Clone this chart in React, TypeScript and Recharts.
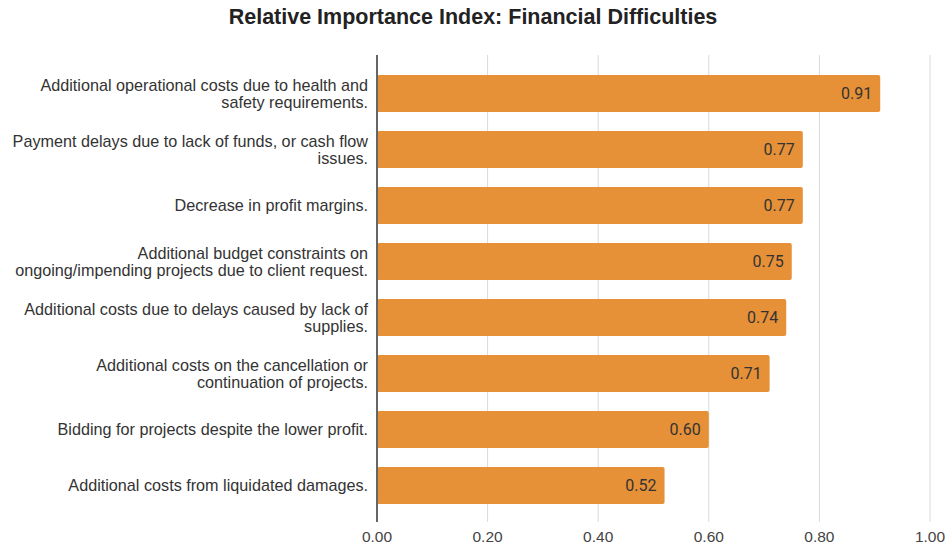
import React from "react";
import { BarChart, Bar, XAxis, YAxis, CartesianGrid, LabelList } from "recharts";

// Factor labels (explicit line breaks) and their relative importance index values
const factors: string[] = [
  "Additional operational costs due to health and\nsafety requirements.",
  "Payment delays due to lack of funds, or cash flow\nissues.",
  "Decrease in profit margins.",
  "Additional budget constraints on\nongoing/impending projects due to client request.",
  "Additional costs due to delays caused by lack of\nsupplies.",
  "Additional costs on the cancellation or\ncontinuation of projects.",
  "Bidding for projects despite the lower profit.",
  "Additional costs from liquidated damages.",
];
const riiValues: number[] = [0.91, 0.77, 0.77, 0.75, 0.74, 0.71, 0.6, 0.52];
const xTicks: number[] = [0, 0.2, 0.4, 0.6, 0.8, 1.0];

const chartTitle = "Relative Importance Index: Financial Difficulties";

const data = factors.map((factor, i) => ({ factor, rii: riiValues[i] }));

const LABEL_FONT = "'Liberation Sans', Arial, sans-serif";

function FactorTick(props: any) {
  const { x, y, payload } = props;
  const lines: string[] = String(payload.value).split("\n");
  const lineHeight = 17;
  const startDy = -((lines.length - 1) * lineHeight) / 2;
  return (
    <text
      x={x}
      y={y}
      textAnchor="end"
      fill="#333"
      fontSize={16.2}
      fontFamily={LABEL_FONT}
    >
      {lines.map((line, i) => (
        <tspan key={i} x={x} dy={i === 0 ? startDy : lineHeight} dominantBaseline="central">
          {line}
        </tspan>
      ))}
    </text>
  );
}

export default function App() {
  return (
    <div style={{ position: "absolute", left: 0, top: 0, width: 946, height: 548, background: "#fff" }}>
      <div
        style={{
          position: "absolute",
          left: 0,
          top: 5,
          width: 946,
          textAlign: "center",
          fontFamily: LABEL_FONT,
          fontWeight: "bold",
          fontSize: 21.5,
          color: "#222",
          lineHeight: "25px",
        }}
      >
        {chartTitle}
      </div>
      <BarChart
        width={946}
        height={548}
        data={data}
        layout="vertical"
        margin={{ top: 55, right: 16, bottom: 0, left: 0 }}
        barSize={37}
      >
        <CartesianGrid horizontal={false} stroke="#d9d9d9" />
        <XAxis
          type="number"
          domain={[0, 1]}
          ticks={xTicks}
          tickFormatter={(v: number) => v.toFixed(2)}
          axisLine={false}
          tickLine={false}
          height={26}
          tickMargin={3}
          tick={{ fill: "#444", fontSize: 15.5, fontFamily: LABEL_FONT }}
          interval={0}
        />
        <YAxis
          type="category"
          dataKey="factor"
          width={377}
          tick={<FactorTick />}
          tickLine={false}
          tickSize={0}
          tickMargin={9}
          axisLine={{ stroke: "#666", strokeWidth: 2 }}
          padding={{ top: 10, bottom: 9 }}
          interval={0}
        />
        <Bar dataKey="rii" fill="#e69138" radius={2} isAnimationActive={false}>
          <LabelList
            dataKey="rii"
            position="insideRight"
            offset={8}
            formatter={(v: any) => Number(v).toFixed(2)}
            fill="#333"
            fontSize={16}
            fontFamily="Roboto, sans-serif"
          />
        </Bar>
      </BarChart>
    </div>
  );
}
